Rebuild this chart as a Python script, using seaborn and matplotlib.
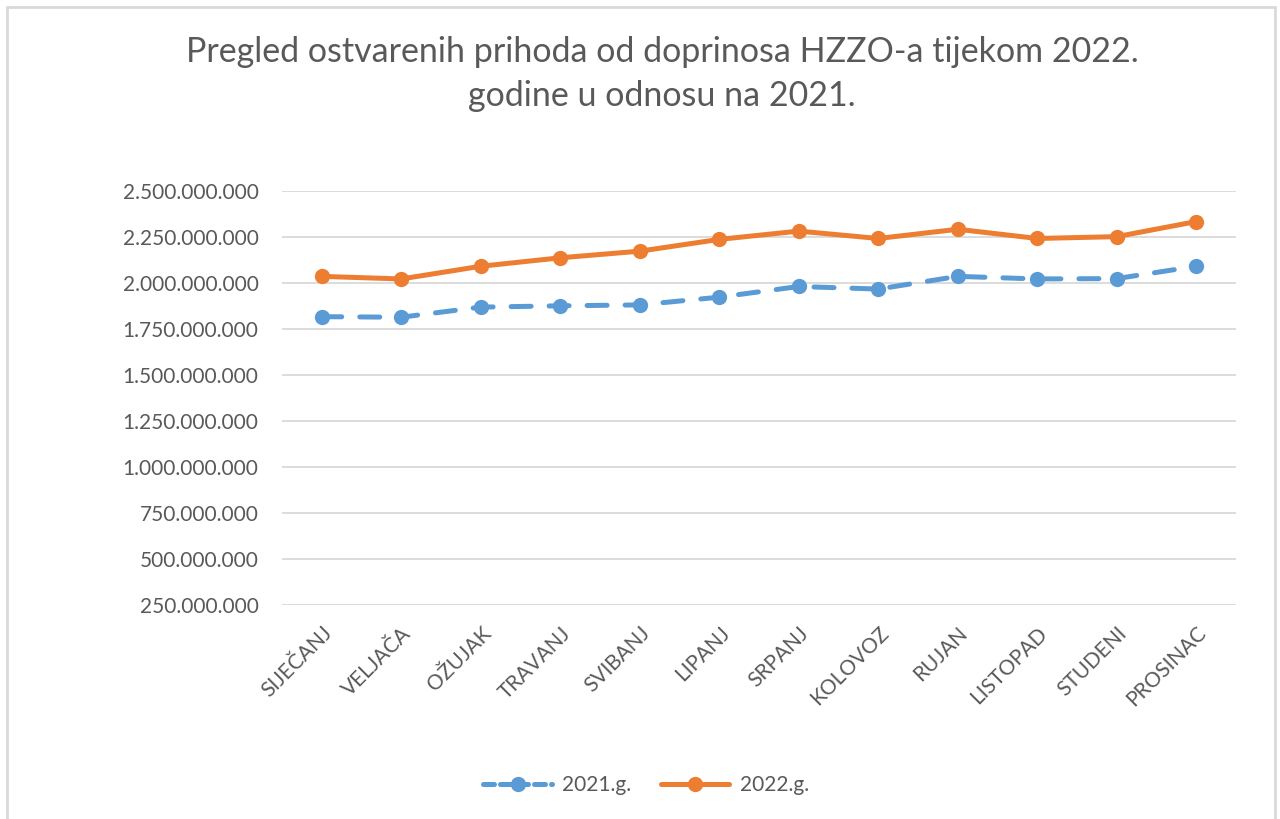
import matplotlib
matplotlib.use("Agg")
import matplotlib.pyplot as plt
import matplotlib.ticker as mticker
from matplotlib.lines import Line2D
from matplotlib.patches import Rectangle
import pandas as pd
import seaborn as sns

MONTHS = ["SIJEČANJ", "VELJAČA", "OŽUJAK", "TRAVANJ", "SVIBANJ", "LIPANJ",
          "SRPANJ", "KOLOVOZ", "RUJAN", "LISTOPAD", "STUDENI", "PROSINAC"]
Y2021 = [1817e6, 1814e6, 1869e6, 1876e6, 1881e6, 1923e6,
         1981e6, 1967e6, 2036e6, 2022e6, 2024e6, 2091e6]
Y2022 = [2036e6, 2022e6, 2091e6, 2137e6, 2173e6, 2237e6,
         2282e6, 2242e6, 2292e6, 2242e6, 2252e6, 2334e6]
SERIES = ["2021.g.", "2022.g."]
TITLE = "Pregled ostvarenih prihoda od doprinosa HZZO-a tijekom 2022.\ngodine u odnosu na 2021."

BLUE = "#5B9BD5"
ORANGE = "#ED7D31"
TEXT = "#595959"
GRID = "#D9D9D9"

sns.set_theme(style="white")
plt.rcParams["font.family"] = ["Lato", "DejaVu Sans"]

df = pd.DataFrame({"pos": range(len(MONTHS)), "y2021": Y2021, "y2022": Y2022})

fig = plt.figure(figsize=(12.8, 8.19), dpi=100)
ax = fig.add_axes([282 / 1280, 1 - 605 / 819, 954 / 1280, 414 / 819])

lw = 3.6
sns.lineplot(data=df, x="pos", y="y2021", ax=ax, color=BLUE, linewidth=lw,
             marker="o", markersize=11, markeredgewidth=0,
             dashes=False, zorder=3)
ax.lines[-1].set_dashes((4, 3.6))
ax.lines[-1].set_dash_capstyle("round")
sns.lineplot(data=df, x="pos", y="y2022", ax=ax, color=ORANGE, linewidth=lw,
             marker="o", markersize=11, markeredgewidth=0, zorder=4)

ax.set_xlim(-0.5, len(MONTHS) - 0.5)
ax.set_ylim(250e6, 2500e6)
ax.yaxis.set_major_locator(mticker.MultipleLocator(250e6))
ax.yaxis.set_major_formatter(mticker.FuncFormatter(
    lambda v, p: f"{int(round(v)):,}".replace(",", ".")))
ax.set_xticks(range(len(MONTHS)))
ax.set_xticklabels(MONTHS, rotation=45, ha="right", rotation_mode="anchor")
ax.tick_params(axis="both", length=0, labelsize=15, labelcolor=TEXT)
ax.tick_params(axis="y", pad=17)
ax.tick_params(axis="x", pad=13)
ax.grid(axis="y", color=GRID, linewidth=1.3)
ax.set_axisbelow(True)
for s in ax.spines.values():
    s.set_visible(False)
ax.set_xlabel("")
ax.set_ylabel("")

fig.text(662 / 1280, 1 - 74 / 819, TITLE, ha="center", va="center",
         fontsize=24.5, color=TEXT, linespacing=1.45)

handles = [
    Line2D([], [], color=BLUE, linewidth=lw, marker="o", markersize=11,
           markeredgewidth=0, dashes=(2.2, 1.2), dash_capstyle="round"),
    Line2D([], [], color=ORANGE, linewidth=lw, marker="o", markersize=11,
           markeredgewidth=0),
]
fig.legend(handles, SERIES, loc="center", bbox_to_anchor=(646 / 1280, 1 - 785 / 819),
           ncol=2, frameon=False, fontsize=15, labelcolor=TEXT,
           handlelength=3.3, columnspacing=1.4, handletextpad=0.5)

fig.patches.append(Rectangle((7 / 1280, -0.05), 1268 / 1280, 1.05 - 7 / 819,
                             transform=fig.transFigure, fill=False,
                             edgecolor=GRID, linewidth=2))

fig.savefig("out.png", dpi=100, facecolor="white")
